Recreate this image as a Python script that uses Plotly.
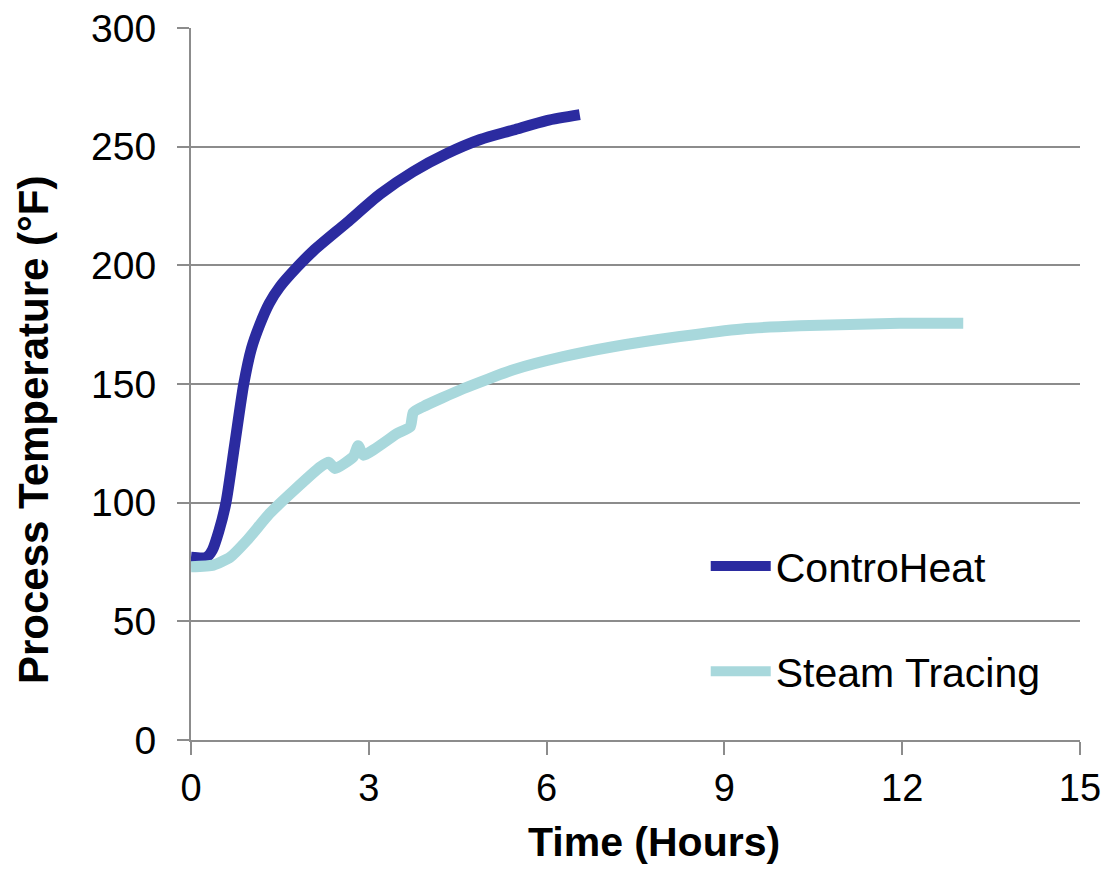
import plotly.graph_objects as go

# Data
contro_x = [0, 0.26, 0.36, 0.47, 0.59, 0.74, 0.89, 1.02, 1.16, 1.32, 1.50, 1.80, 2.06, 2.63, 3.19, 3.75,
            4.31, 4.88, 5.44, 6.0, 6.56]
contro_y = [77, 77, 80, 88, 100, 125, 150, 165, 175, 184, 191, 199.5, 206, 218, 230, 239.5,
            247, 253, 257, 261, 263.5]

steam_x = [0, 0.38, 0.66, 0.94, 1.33, 1.73, 2.18, 2.32, 2.43, 2.74, 2.82, 2.91, 3.47, 3.70, 3.75, 3.92,
           4.59, 5.44, 6.28, 7.12, 8.25, 9.3, 10.27, 11.96, 13.03]
steam_y = [73, 73.7, 77, 84, 95.5, 105, 115, 117, 114.4, 119.4, 124, 120, 129, 132, 138, 140.5,
           148, 156, 161.5, 165.7, 170, 173.2, 174.5, 175.6, 175.6]

x_ticks = [0, 3, 6, 9, 12, 15]
y_ticks = [0, 50, 100, 150, 200, 250, 300]

FONT = "Liberation Sans, Arial, sans-serif"
GRID = "#8c8c8c"

fig = go.Figure()
fig.add_trace(go.Scatter(x=contro_x, y=contro_y, mode="lines", name="ControHeat",
                         line=dict(color="#2b2ba0", width=11, shape="spline", smoothing=0.7),
                         legendgroup="a"))
fig.add_trace(go.Scatter(x=steam_x, y=steam_y, mode="lines", name="Steam Tracing",
                         line=dict(color="#a8d8dc", width=11, shape="spline", smoothing=0.5),
                         legendgroup="b"))

fig.update_layout(
    width=1109, height=874,
    margin=dict(l=191, r=29, t=28, b=134, autoexpand=False),
    plot_bgcolor="white", paper_bgcolor="white",
    font=dict(family=FONT, color="black"),
    showlegend=True,
    legend=dict(x=0.579, y=0.291, xanchor="left", yanchor="top", itemwidth=60,
                font=dict(size=41, family=FONT, color="black"),
                bgcolor="rgba(0,0,0,0)", traceorder="grouped", tracegroupgap=49),
    xaxis=dict(range=[0, 15], tickvals=x_ticks, ticks="outside", ticklen=13, tickwidth=2,
               tickcolor=GRID, showline=True, linecolor=GRID, linewidth=2, showgrid=False,
               zeroline=False, tickfont=dict(size=38, family=FONT, color="black")),
    yaxis=dict(range=[0, 300], tickvals=y_ticks, ticks="outside", ticklen=12, tickwidth=2,
               tickcolor=GRID, showline=True, linecolor=GRID, linewidth=2, showgrid=True,
               gridcolor=GRID, gridwidth=2, zeroline=False,
               tickfont=dict(size=39, family=FONT, color="black"), ticklabelstandoff=13),
    annotations=[
        dict(text="<b>Time (Hours)</b>", xref="paper", yref="paper", x=(654 - 191) / 889,
             y=-(842 - 740) / 712, xanchor="center", yanchor="middle", showarrow=False,
             font=dict(size=41, family=FONT, color="black")),
        dict(text="<b>Process Temperature (°F)</b>", xref="paper", yref="paper",
             x=-(191 - 33) / 889, y=(740 - 430) / 712, xanchor="center", yanchor="middle",
             textangle=-90, showarrow=False, font=dict(size=42, family=FONT, color="black")),
    ],
)

fig.write_html("out.html", config={"displayModeBar": False},
               post_script="document.body.style.margin='0px';")
